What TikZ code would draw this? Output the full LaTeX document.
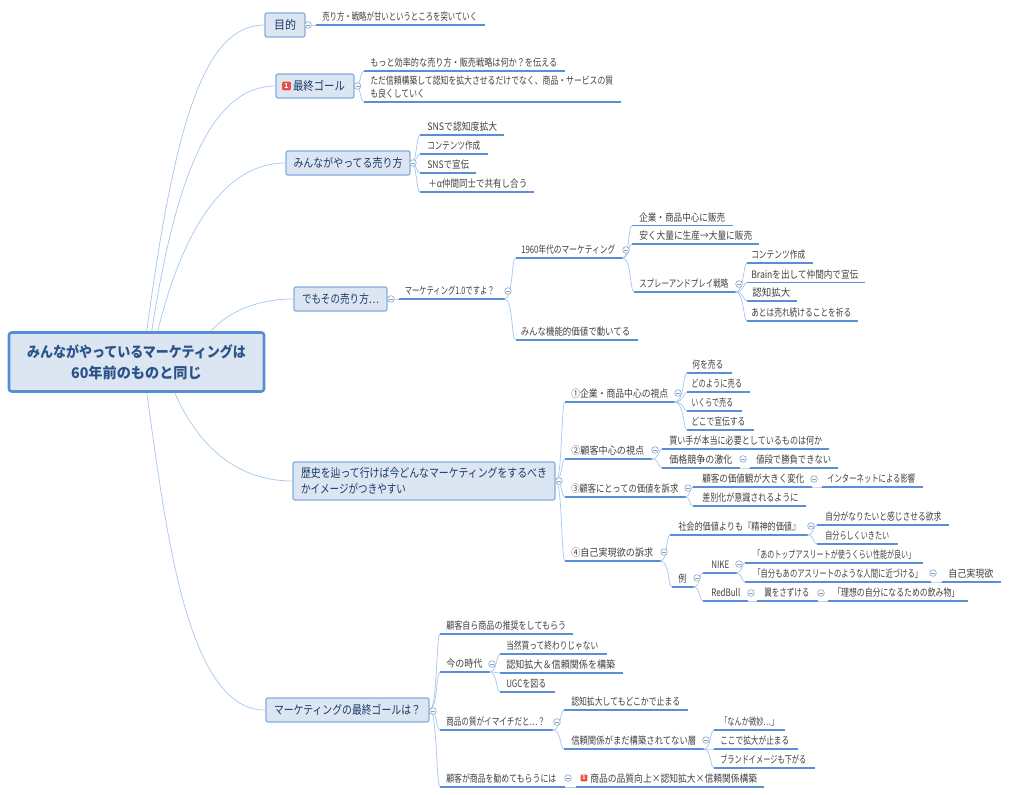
\documentclass[tikz,border=0pt]{standalone}
\usepackage{fontspec}
\usepackage{graphicx}
\setmainfont{Noto Sans CJK JP}
\usetikzlibrary{calc}
\definecolor{linkc}{HTML}{A9C8EE}
\definecolor{ulinec}{HTML}{5A8FD8}
\definecolor{boxfill}{HTML}{DCE6F2}
\definecolor{boxline}{HTML}{82ACE0}
\definecolor{rootline}{HTML}{558ED5}
\definecolor{leaftxt}{HTML}{404040}
\definecolor{toptxt}{HTML}{1A3A68}
\definecolor{badgec}{HTML}{E8503F}
\tikzset{
  leafnode/.style={inner sep=0pt,anchor=south west,text=leaftxt,font=\fontsize{7.7}{9.4}\selectfont},
  uline/.style={draw=ulinec,line width=0.95pt},
  lnk/.style={draw=linkc,line width=0.55pt},
  topicbox/.style={draw=boxline,fill=boxfill,rounded corners=1.5pt,line width=0.9pt,inner sep=0pt,text=toptxt,font=\fontsize{9}{12}\selectfont},
  rootbox/.style={draw=rootline,fill=boxfill,rounded corners=2pt,line width=1.9pt,inner sep=0pt,text=toptxt!70!rootline,font=\fontsize{11}{16}\selectfont\bfseries,align=center},
  knob/.style={circle,draw=linkc!85!black,fill=white,line width=0.5pt,minimum size=5pt,inner sep=0pt,path picture={\draw[linkc!80!black,line width=0.35pt] ($(path picture bounding box.west)+(1pt,0)$) -- ($(path picture bounding box.east)+(-1pt,0)$);}},
  badge/.style={fill=badgec,rounded corners=0.8pt,text=white,inner sep=0pt,minimum size=6.6pt,font=\fontsize{5}{5}\selectfont\bfseries}
}
% min-height; x0 x1 name tx0 tx1 yu
\newcommand\leaf[7][16]{%
  \pgfmathsetlengthmacro\pa{(#5-#2)*0.75}%
  \pgfmathsetlengthmacro\pb{(#6-#5)*0.75}%
  \pgfmathsetlengthmacro\pc{(#3-#6)*0.75}%
  \pgfmathsetlengthmacro\ph{#1*0.75}%
  \node[leafnode,minimum height=\ph] (#4) at (#2,#7) {\hspace*{\pa}\resizebox{\pb}{\height}{\leaftext}\hspace*{\pc}};%
  \draw[uline] (#4.south west) -- (#4.south east);%
}
% \lf{name}{x0}{x1}{yu}{tx0}{tx1}{text}
\newcommand\lf[7]{\def\leaftext{#7}\leaf{#2}{#3}{#1}{#5}{#6}{#4}}
% name x0 y0 x1 y1 textwidth text
\newcommand\tp[7]{%
  \pgfmathsetlengthmacro\pb{#6*0.75}%
  \pgfmathsetlengthmacro\pw{(#4-#2)*0.75}%
  \pgfmathsetlengthmacro\ph{(#5-#3)*0.75}%
  \node[topicbox,minimum width=\pw,minimum height=\ph] (#1) at ({(#2+#4)/2},{(#3+#5)/2}) {\resizebox{\pb}{\height}{#7}};%
}
\newcommand\conn[2]{\draw[lnk] let \p1=(#1), \p2=(#2.south west) in (\p1) .. controls (\x2-1.9pt,\y1) and (\x2-3pt,\y2) .. (\p2);}
\begin{document}
\begin{tikzpicture}[x=0.75pt,y=-0.75pt]
\useasboundingbox (0,0) rectangle (1009,795);
% root
\node[rootbox,minimum width=191.25pt,minimum height=44.25pt] (root) at (136.5,362) {\resizebox{164pt}{\height}{みんながやっているマーケティングは}\\[0pt]\resizebox{98pt}{\height}{60年前のものと同じ}};
% topics
\tp{t1}{265}{13}{305}{37}{22}{目的}
\tp{t2}{276}{74}{354}{98}{60}{\hspace*{7pt}最終ゴール}
\tp{t3}{286}{151}{410}{175}{109}{みんながやってる売り方}
\tp{t4}{294}{287}{387}{311}{77}{でもその売り方…}
\pgfmathsetlengthmacro\pw{262*0.75}
\pgfmathsetlengthmacro\ph{38*0.75}
\node[topicbox,align=left,minimum width=\pw,minimum height=\ph] (t5) at (424,481) {\resizebox{184.5pt}{\height}{歴史を辿って行けば今どんなマーケティングをするべき}\\\resizebox{78.75pt}{\height}{かイメージがつきやすい}\hspace*{105.75pt}};
\tp{t6}{266}{698}{429}{722}{147}{マーケティングの最終ゴールは？}
\node[badge] (b1) at (286.5,86) {1};
% leaves: name,x0,x1,yu,tx0,tx1,text
\lf{a1}{316}{484}{25}{322}{477}{売り方・戦略が甘いというところを突いていく}
\lf{b2}{364}{564}{71}{370}{557}{もっと効率的な売り方・販売戦略は何か？を伝える}
\def\leaftext{\shortstack[l]{ただ信頼構築して認知を拡大させるだけでなく、商品・サービスの質\\も良くしていく}}
\leaf[29]{364}{620}{b3}{370}{613}{102}
\lf{c1}{420}{503}{135}{427}{497}{SNSで認知度拡大}
\lf{c2}{420}{487}{154}{427}{480}{コンテンツ作成}
\lf{c3}{420}{475.5}{173}{427}{469}{SNSで宣伝}
\lf{c4}{420}{533}{192}{428}{527}{＋α仲間同士で共有し合う}
\lf{d1}{399}{504}{299}{404.5}{494.5}{マーケティング1.0ですよ？}
\lf{d2}{515.5}{622}{258}{521}{615}{1960年代のマーケティング}
\lf{d3}{515.5}{637}{340}{520.5}{630}{みんな機能的価値で動いてる}
\lf{d4}{632}{732}{225.5}{639}{725}{企業・商品中心に販売}
\lf{d5}{632}{758}{244}{639}{752}{安く大量に生産→大量に販売}
\lf{d6}{634}{735}{292}{639}{728}{スプレーアンドプレイ戦略}
\lf{d7}{747}{812}{263}{751}{805}{コンテンツ作成}
\lf{d8}{747}{864}{282.5}{751}{858}{Brainを出して仲間内で宣伝}
\lf{d9}{747}{796}{301}{752}{790}{認知拡大}
\lf{d10}{747}{857}{321}{751}{851}{あとは売れ続けることを祈る}
\lf{e1}{565}{674}{402}{571}{668}{①企業・商品中心の視点}
\lf{e2}{687}{731}{373}{692}{723}{何を売る}
\lf{e3}{687}{749}{392}{691}{742}{どのように売る}
\lf{e4}{687}{741}{411}{691}{733}{いくらで売る}
\lf{e5}{687}{753}{430}{691}{745}{どこで宣伝する}
\lf{f1}{565}{651}{459}{571}{644}{②顧客中心の視点}
\lf{f2}{662}{828}{449}{669}{822}{買い手が本当に必要としているものは何か}
\lf{f3}{662}{739}{468}{669}{732}{価格競争の激化}
\lf{f4}{750}{837}{468}{756}{831}{値段で勝負できない}
\lf{g1}{565}{685}{497}{571}{678}{③顧客にとっての価値を訴求}
\lf{g2}{693}{811}{487}{702}{804}{顧客の価値観が大きく変化}
\lf{g3}{822}{922}{487}{827}{915}{インターネットによる影響}
\lf{g4}{693}{805}{506}{702}{798}{差別化が意識されるように}
\lf{h1}{565}{660}{561}{571}{653}{④自己実現欲の訴求}
\lf{h2}{670}{807}{535}{678}{800}{社会的価値よりも『精神的価値』}
\lf{h3}{817}{948}{525}{825}{941}{自分がなりたいと感じさせる欲求}
\lf{h4}{817}{897}{544}{825}{889}{自分らしくいきたい}
\lf{h5}{672}{693}{587}{678}{686}{例}
\lf{h6}{703}{736}{573}{711}{729}{NIKE}
\lf{h7}{745}{922}{563}{753}{915}{「あのトップアスリートが使うくらい性能が良い」}
\lf{h8}{745}{930}{582}{753}{922}{「自分もあのアスリートのような人間に近づける」}
\lf{h9}{942}{1000}{582}{948}{993}{自己実現欲}
\lf{h10}{703}{747}{601}{711}{740}{RedBull}
\lf{h11}{757}{817}{601}{764}{809}{翼をさずける}
\lf{h12}{828}{967}{601}{833}{959}{「理想の自分になるための飲み物」}
\lf{i1}{440}{572}{634}{446}{566}{顧客自ら商品の推奨をしてもらう}
\lf{i2}{440}{489}{672}{446}{482}{今の時代}
\lf{i3}{500}{606}{654}{506}{598}{当然買って終わりじゃない}
\lf{i4}{500}{622}{673}{506}{615}{認知拡大＆信頼関係を構築}
\lf{i5}{500}{554}{692}{506}{546}{UGCを図る}
\lf{i6}{440}{552}{730}{446}{545}{商品の質がイマイチだと…？}
\lf{i7}{564}{687}{710}{571}{680}{認知拡大してもどこかで止まる}
\lf{i8}{564}{703}{749}{571}{696}{信頼関係がまだ構築されてない層}
\lf{i9}{714}{784}{730}{720}{778}{「なんか微妙…」}
\lf{i10}{714}{797}{749}{720}{789}{ここで拡大が止まる}
\lf{i11}{714}{814}{768}{720}{806}{ブランドイメージも下がる}
\lf{i12}{440}{564}{787}{446}{556}{顧客が商品を勧めてもらうには}
\lf{i13}{576}{763}{787}{590}{757}{商品の品質向上×認知拡大×信頼関係構築}
\node[badge,minimum size=5.2pt,font=\fontsize{4}{4}\selectfont\bfseries] (b2i) at (584,778) {1};
% root connectors
\draw[lnk] ($(root.north west)+(139,0)$) .. controls (175,120) and (205,25) .. (t1.west);
\draw[lnk] ($(root.north west)+(144,0)$) .. controls (175,180) and (210,86) .. (t2.west);
\draw[lnk] ($(root.north west)+(150,0)$) .. controls (180,240) and (220,163) .. (t3.west);
\draw[lnk] ($(root.north west)+(203,0)$) .. controls (230,310) and (260,299) .. (t4.west);
\draw[lnk] ($(root.south west)+(167,0)$) .. controls (200,450) and (240,481) .. (t5.west);
\draw[lnk] ($(root.south west)+(139,0)$) .. controls (165,520) and (185,711) .. (t6.west);
% branch connectors
\conn{t1.east}{a1}
\foreach \c in {b2,b3}{\conn{t2.east}{\c}}
\foreach \c in {c1,c2,c3,c4}{\conn{t3.east}{\c}}
\conn{t4.east}{d1}
\foreach \c in {d2,d3}{\conn{d1.south east}{\c}}
\foreach \c in {d4,d5,d6}{\conn{d2.south east}{\c}}
\foreach \c in {d7,d8,d9,d10}{\conn{d6.south east}{\c}}
\foreach \c in {e1,f1,g1,h1}{\conn{t5.east}{\c}}
\foreach \c in {e2,e3,e4,e5}{\conn{e1.south east}{\c}}
\foreach \c in {f2,f3}{\conn{f1.south east}{\c}}
\conn{f3.south east}{f4}
\foreach \c in {g2,g4}{\conn{g1.south east}{\c}}
\conn{g2.south east}{g3}
\foreach \c in {h2,h5}{\conn{h1.south east}{\c}}
\foreach \c in {h3,h4}{\conn{h2.south east}{\c}}
\foreach \c in {h6,h10}{\conn{h5.south east}{\c}}
\foreach \c in {h7,h8}{\conn{h6.south east}{\c}}
\conn{h8.south east}{h9}
\conn{h10.south east}{h11}
\conn{h11.south east}{h12}
\foreach \c in {i1,i2,i6,i12}{\conn{t6.east}{\c}}
\foreach \c in {i3,i4,i5}{\conn{i2.south east}{\c}}
\foreach \c in {i7,i8}{\conn{i6.south east}{\c}}
\foreach \c in {i9,i10,i11}{\conn{i8.south east}{\c}}
\conn{i12.south east}{i13}
% knobs
\foreach \n/\x/\y in {k1/308/25,k2/357.5/86,k3/413/163,k4/391/299,k5/508/291,k6/626/250,k7/739/284,k8/559/481,k9/678/393,k10/655/450,k11/743/459,k12/688/488,k13/814/479,k14/664/552,k15/811/526,k16/697/578,k17/739/564,k18/933/573,k19/751/593,k20/821/593,k21/433/711,k22/492/664,k23/557/722,k24/706/740,k25/568/778}{\node[knob] (\n) at (\x,\y) {};}
\end{tikzpicture}
\end{document}
